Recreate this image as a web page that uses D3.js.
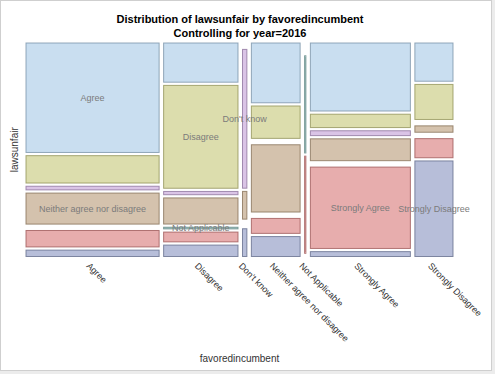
<!DOCTYPE html>
<html>
<head>
<meta charset="utf-8">
<script src="https://cdn.jsdelivr.net/npm/d3@7"></script>
<style>
  body { margin: 0; background: #ececec; }
  svg { display: block; font-family: Arial, "Liberation Sans", sans-serif; }
</style>
</head>
<body>
<script>
// mosaic plot: column widths = favoredincumbent totals, cell heights = lawsunfair share

// levels (same list for both variables)
const favoredLevels = ["Agree", "Disagree", "Don't know", "Neither agree nor disagree",
                       "Not Applicable", "Strongly Agree", "Strongly Disagree"];
const lawsunfairLevels = ["Agree", "Disagree", "Don't know", "Neither agree nor disagree",
                          "Not Applicable", "Strongly Agree", "Strongly Disagree"];

// counts of lawsunfair (in the order above) inside each favoredincumbent column
const agreeCounts            = [120, 30, 4, 34, 0, 18, 7];
const disagreeCounts         = [24, 63, 2, 16, 1, 6, 7];
const dontKnowCounts         = [0, 0, 5, 1, 0, 0, 1];
const neitherCounts          = [24, 13, 0, 27, 0, 6, 8];
const notApplicableCounts    = [0, 0, 0, 0, 1, 1, 0];
const stronglyAgreeCounts    = [56, 11, 4, 18, 0, 67, 4];
const stronglyDisagreeCounts = [12, 11, 0, 2, 0, 6, 30];

const titleLines = ["Distribution of lawsunfair by favoredincumbent", "Controlling for year=2016"];

let svg = null;
let plot = {left: 25.5, right: 453.5, top: 42.5, bottom: 257};
let gapX = 3.5, gapY = 2.2;
let xs, colors, columns = [];

const colorList = ["#94BDE1", "#BABC5C", "#B689CD", "#A9865B", "#66A5A0", "#D05B5B", "#6F7EB3"];

buildColumns();
appendSvg("body");
appendTitle();
appendCells();
appendCellLabels();
appendXAxis();
appendAxisLabels();

function buildColumns() {
  const all = [agreeCounts, disagreeCounts, dontKnowCounts, neitherCounts,
               notApplicableCounts, stronglyAgreeCounts, stronglyDisagreeCounts];
  const grand = d3.sum(all, d => d3.sum(d));
  const plotW = plot.right - plot.left;
  const plotH = plot.bottom - plot.top;
  const n = favoredLevels.length;

  xs = d3.scaleLinear().domain([0, grand]).range([0, plotW - (n - 1) * gapX - n]);
  colors = d3.scaleOrdinal().domain(lawsunfairLevels).range(colorList);

  let x = plot.left;
  all.forEach((counts, i) => {
    const total = d3.sum(counts);
    const w = xs(total) + 1;
    const ys = d3.scaleLinear().domain([0, total])
      .range([0, plotH - (lawsunfairLevels.length - 1) * gapY - lawsunfairLevels.length]);
    let y = plot.top;
    const cells = counts.map((c, j) => {
      const h = ys(c) + 1;
      const cell = {col: favoredLevels[i], row: lawsunfairLevels[j], count: c, x: x, y: y, w: w, h: h};
      y += h + gapY;
      return cell;
    });
    columns.push({name: favoredLevels[i], x: x, w: w, cells: cells});
    x += w + gapX;
  });
}

function appendSvg(domElement) {
  svg = d3.select(domElement).append("svg")
    .attr("width", 495)
    .attr("height", 374);

  svg.append("rect")
    .attr("x", 0.5).attr("y", 0.5)
    .attr("width", 491).attr("height", 370)
    .attr("fill", "#ffffff")
    .attr("stroke", "#cfcfcf");
}

function appendTitle() {
  svg.selectAll(".title")
    .data(titleLines)
    .enter().append("text")
    .attr("class", "title")
    .attr("x", 240)
    .attr("y", (d, i) => 23 + i * 14)
    .attr("text-anchor", "middle")
    .attr("font-size", "11px")
    .attr("font-weight", "bold")
    .attr("fill", "#000")
    .text(d => d);
}

function appendCells() {
  const cells = columns.flatMap(c => c.cells);
  svg.append("g").selectAll("rect")
    .data(cells)
    .enter().append("rect")
    .attr("x", d => d.x + 0.5)
    .attr("y", d => d.y + 0.5)
    .attr("width", d => Math.max(d.w - 1, 0))
    .attr("height", d => Math.max(d.h - 1, 0))
    .attr("fill", d => colors(d.row))
    .attr("fill-opacity", 0.5)
    .attr("stroke", d => d3.interpolateRgb(colors(d.row), "#555")(0.4))
    .attr("stroke-opacity", 0.8)
    .attr("stroke-width", 1);
}

function appendCellLabels() {
  // each row label sits in the cell with the largest count
  const labels = lawsunfairLevels.map((row, j) => {
    const cells = columns.map(c => c.cells[j]);
    return cells[d3.maxIndex(cells, d => d.count)];
  });
  svg.append("g").selectAll("text")
    .data(labels)
    .enter().append("text")
    .attr("x", d => d.x + d.w / 2)
    .attr("y", d => d.y + d.h / 2)
    .attr("dy", "0.35em")
    .attr("text-anchor", "middle")
    .attr("font-size", "9px")
    .attr("fill", "#7b7b7b")
    .text(d => d.row);
}

function appendXAxis() {
  const xCenter = d3.scaleOrdinal()
    .domain(favoredLevels)
    .range(columns.map(c => c.x + c.w / 2));

  const g = svg.append("g")
    .attr("transform", `translate(0, ${plot.bottom})`)
    .call(d3.axisBottom(xCenter).tickSize(0).tickPadding(0));

  g.select(".domain").remove();
  g.selectAll("text")
    .attr("x", 0).attr("y", 0)
    .attr("dy", "0.71em")
    .attr("text-anchor", "start")
    .attr("transform", "translate(-2.5, 5) rotate(45)")
    .attr("font-size", "9px")
    .attr("font-family", "Arial, 'Liberation Sans', sans-serif")
    .attr("fill", "#333");
}

function appendAxisLabels() {
  svg.append("text")
    .attr("transform", `translate(17.5, ${(plot.top + plot.bottom) / 2}) rotate(-90)`)
    .attr("text-anchor", "middle")
    .attr("font-size", "10px")
    .attr("fill", "#333")
    .text("lawsunfair");

  svg.append("text")
    .attr("x", (plot.left + plot.right) / 2)
    .attr("y", 362)
    .attr("text-anchor", "middle")
    .attr("font-size", "10px")
    .attr("fill", "#333")
    .text("favoredincumbent");
}
</script>
</body>
</html>
